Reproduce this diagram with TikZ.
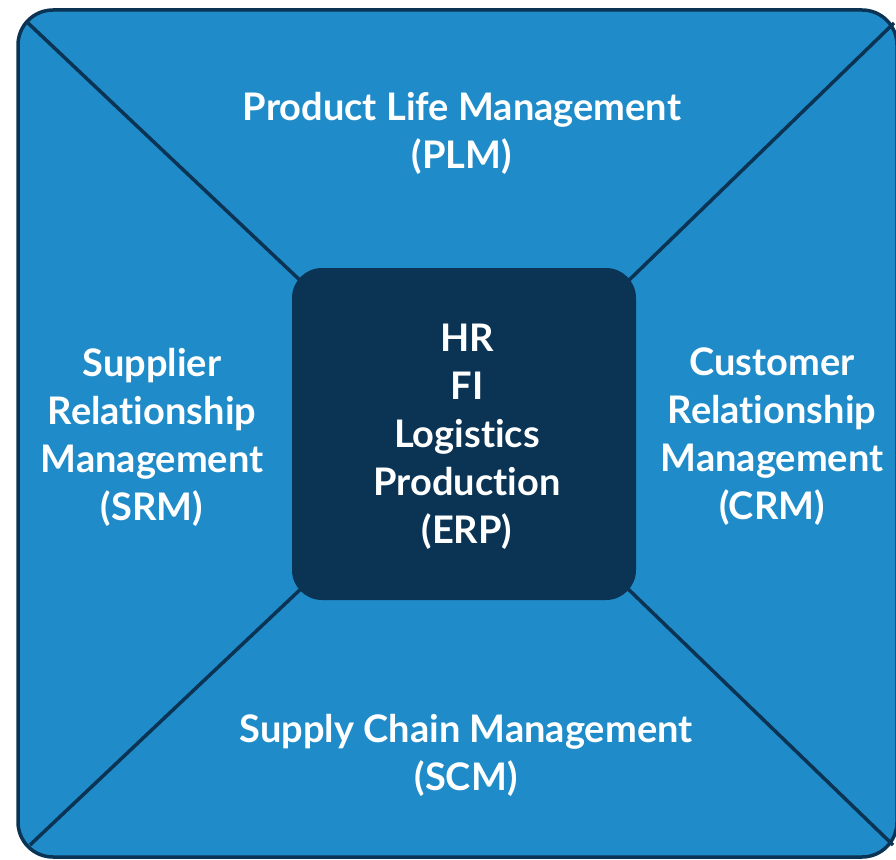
\documentclass[tikz,border=0pt]{standalone}
\usepackage{fontspec}
\setmainfont{Lato}[Ligatures={NoCommon}]
\definecolor{bluefill}{RGB}{31,140,201}
\definecolor{navy}{RGB}{11,52,84}
\begin{document}
\begin{tikzpicture}[x=1pt,y=-1pt,
  lbl/.style={text=white,align=center,font=\fontsize{38}{48}\selectfont\bfseries,inner sep=0pt},
  diag/.style={draw=navy,line width=3.5pt}]
\useasboundingbox (0,0) rectangle (896,859);
\draw[fill=bluefill,draw=navy,line width=3.5pt,rounded corners=35pt] (18,10) rectangle (897,857);
\coordinate (tl) at (28,23);
\coordinate (tr) at (894,23);
\coordinate (bl) at (30,845);
\coordinate (br) at (893,845);
\coordinate (itl) at (305,285);
\coordinate (itr) at (624,285);
\coordinate (ibl) at (305,585);
\coordinate (ibr) at (624,585);
\draw[diag] (tl) -- (itl);
\draw[diag] (tr) -- (itr);
\draw[diag] (bl) -- (ibl);
\draw[diag] (br) -- (ibr);
\node[fill=navy,rounded corners=30pt,minimum width=344pt,minimum height=332pt,inner sep=0pt] (erpbox) at (464,434) {};
\node[lbl] (erp) at (467,437) {HR\\FI\\Logistics\\Production\\(ERP)};
\node[lbl] (plm) at (462,133) {Product Life Management\\(PLM)};
\node[lbl] (srm) at (152,437) {Supplier\\Relationship\\Management\\(SRM)};
\node[lbl] (crm) at (772,437) {Customer\\Relationship\\Management\\(CRM)};
\node[lbl] (scm) at (466,755) {Supply Chain Management\\(SCM)};
\end{tikzpicture}
\end{document}
